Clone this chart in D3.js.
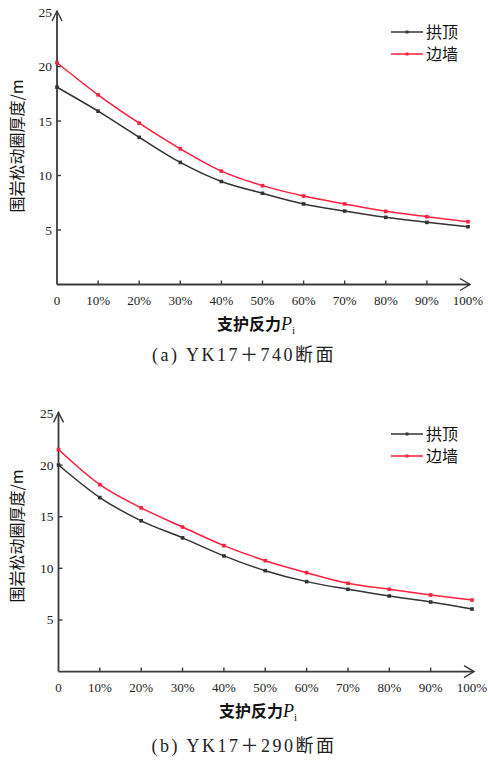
<!DOCTYPE html>
<html>
<head>
<meta charset="utf-8">
<script src="https://cdn.jsdelivr.net/npm/d3@7"></script>
<style>
  html, body { margin: 0; padding: 0; background: #fff; }
  svg { display: block; }
</style>
</head>
<body>
<svg id="chart" width="488" height="770"></svg>
<script>
// ---- data ----
const categories = ["0", "10%", "20%", "30%", "40%", "50%", "60%", "70%", "80%", "90%", "100%"];
const yTicks = [5, 10, 15, 20, 25];
const seriesNames = ["拱顶", "边墙"];
// (a) YK17+740
const crownA = [18.1, 15.9, 13.5, 11.2, 9.45, 8.37, 7.39, 6.74, 6.16, 5.70, 5.30];
const wallA  = [20.35, 17.4, 14.8, 12.45, 10.4, 9.07, 8.12, 7.39, 6.71, 6.22, 5.76];
// (b) YK17+290
const crownB = [20.0, 16.85, 14.6, 12.95, 11.2, 9.77, 8.71, 7.97, 7.32, 6.74, 6.06];
const wallB  = [21.5, 18.1, 15.85, 14.0, 12.2, 10.74, 9.58, 8.55, 7.97, 7.42, 6.93];
const captions = ["(a) YK17＋740断面", "(b) YK17＋290断面"];
const yTitle = "围岩松动圈厚度/m";
const xTitleMain = "支护反力";

const colors = ["#333333", "#ff1f3d"];
const svg = d3.select("#chart");

function drawPanel(cfg) {
  const g = svg.append("g");
  const x = d3.scalePoint().domain(categories).range([cfg.x0, cfg.x1]);
  const y = d3.scaleLinear().domain([0, 25]).range([cfg.yBase, cfg.yTop]);
  const axisColor = "#3a3a3a";

  // axes lines
  g.append("line").attr("x1", cfg.x0).attr("x2", cfg.x1 + 2)
    .attr("y1", cfg.yBase).attr("y2", cfg.yBase)
    .attr("stroke", axisColor).attr("stroke-width", 1.8);
  g.append("line").attr("x1", cfg.x0).attr("x2", cfg.x0)
    .attr("y1", cfg.yBase).attr("y2", y(25) - 1)
    .attr("stroke", axisColor).attr("stroke-width", 1.8);
  // arrows
  g.append("path")
    .attr("d", `M${cfg.x1 - 8},${cfg.yBase - 6} L${cfg.x1 + 2},${cfg.yBase} L${cfg.x1 - 8},${cfg.yBase + 6}`)
    .attr("fill", "none").attr("stroke", axisColor).attr("stroke-width", 1.4);
  g.append("path")
    .attr("d", `M${cfg.x0 - 5},${y(25) + 9} L${cfg.x0},${y(25) - 1} L${cfg.x0 + 5},${y(25) + 9}`)
    .attr("fill", "none").attr("stroke", axisColor).attr("stroke-width", 1.4);

  // x ticks (inward)
  g.selectAll(".xt").data(categories.slice(1, categories.length - 1)).enter()
    .append("line")
    .attr("x1", d => x(d)).attr("x2", d => x(d))
    .attr("y1", cfg.yBase).attr("y2", cfg.yBase - 4)
    .attr("stroke", axisColor).attr("stroke-width", 1.4);
  // x labels
  g.selectAll(".xl").data(categories).enter()
    .append("text")
    .attr("x", d => x(d)).attr("y", cfg.yBase + 20)
    .attr("text-anchor", "middle")
    .attr("font-family", "'Liberation Serif', 'DejaVu Serif', serif")
    .attr("font-size", 13).attr("fill", "#222")
    .text(d => d);

  // y ticks (inward) and labels
  g.selectAll(".yt").data(yTicks.slice(0, 4)).enter()
    .append("line")
    .attr("x1", cfg.x0).attr("x2", cfg.x0 + 4)
    .attr("y1", d => y(d)).attr("y2", d => y(d))
    .attr("stroke", axisColor).attr("stroke-width", 1.4);
  g.selectAll(".yl").data(yTicks).enter()
    .append("text")
    .attr("x", cfg.x0 - 5).attr("y", d => y(d) + 4.5)
    .attr("text-anchor", "end")
    .attr("font-family", "'Liberation Serif', 'DejaVu Serif', serif")
    .attr("font-size", 13.5).attr("fill", "#222")
    .text(d => d);

  // series
  const line = d3.line()
    .x((d, i) => x(categories[i]))
    .y(d => y(d))
    .curve(d3.curveMonotoneX);
  cfg.series.forEach((vals, si) => {
    g.append("path").datum(vals)
      .attr("d", line).attr("fill", "none")
      .attr("stroke", colors[si]).attr("stroke-width", 1.5);
    g.selectAll(".m" + si).data(vals).enter()
      .append("rect")
      .attr("x", (d, i) => x(categories[i]) - 1.8)
      .attr("y", d => y(d) - 1.8)
      .attr("width", 3.6).attr("height", 3.6)
      .attr("fill", colors[si]);
  });

  // legend
  seriesNames.forEach((name, si) => {
    const ly = cfg.legendY + si * 22;
    g.append("line").attr("x1", cfg.legendX).attr("x2", cfg.legendX + 32)
      .attr("y1", ly).attr("y2", ly)
      .attr("stroke", colors[si]).attr("stroke-width", 1.5);
    g.append("rect").attr("x", cfg.legendX + 14.5).attr("y", ly - 1.5)
      .attr("width", 3).attr("height", 3).attr("fill", colors[si]);
    g.append("text").attr("x", cfg.legendX + 35).attr("y", ly + 5.5)
      .attr("font-family", "'Noto Sans CJK SC', sans-serif")
      .attr("font-size", 16).attr("fill", "#111")
      .text(name);
  });

  // y title
  g.append("text")
    .attr("transform", `translate(${cfg.yTitleX},${cfg.yTitleY}) rotate(-90)`)
    .attr("text-anchor", "middle")
    .attr("font-family", "'Noto Sans CJK SC', sans-serif")
    .attr("font-size", 16).attr("fill", "#111")
    .text(yTitle);

  // x title
  const xt = g.append("text")
    .attr("x", cfg.xTitleX).attr("y", cfg.yBase + 45)
    .attr("text-anchor", "middle")
    .attr("font-family", "'Noto Sans CJK SC', sans-serif")
    .attr("font-size", 16).attr("fill", "#111");
  xt.append("tspan").attr("font-weight", "bold").text(xTitleMain);
  xt.append("tspan").attr("font-family", "'Liberation Serif', serif")
    .attr("font-style", "italic").attr("font-size", 18).text("P");
  xt.append("tspan").attr("font-family", "'Liberation Serif', serif")
    .attr("font-size", 11).attr("dy", 4).text("i");

  // caption
  g.append("text")
    .attr("x", 244).attr("y", cfg.captionY)
    .attr("text-anchor", "middle")
    .attr("font-family", "'Liberation Serif', 'Noto Sans CJK SC', serif")
    .attr("font-size", 18).attr("fill", "#222")
    .attr("letter-spacing", 2.5)
    .text(cfg.caption);
}

drawPanel({
  x0: 57, x1: 468, yBase: 284.5, yTop: 12,
  series: [crownA, wallA],
  legendX: 391, legendY: 32,
  yTitleX: 23, yTitleY: 146,
  xTitleX: 256,
  captionY: 361, caption: captions[0]
});
drawPanel({
  x0: 58.5, x1: 472, yBase: 671.6, yTop: 413.4,
  series: [crownB, wallB],
  legendX: 391, legendY: 434,
  yTitleX: 23, yTitleY: 536,
  xTitleX: 258,
  captionY: 752, caption: captions[1]
});
</script>
</body>
</html>
